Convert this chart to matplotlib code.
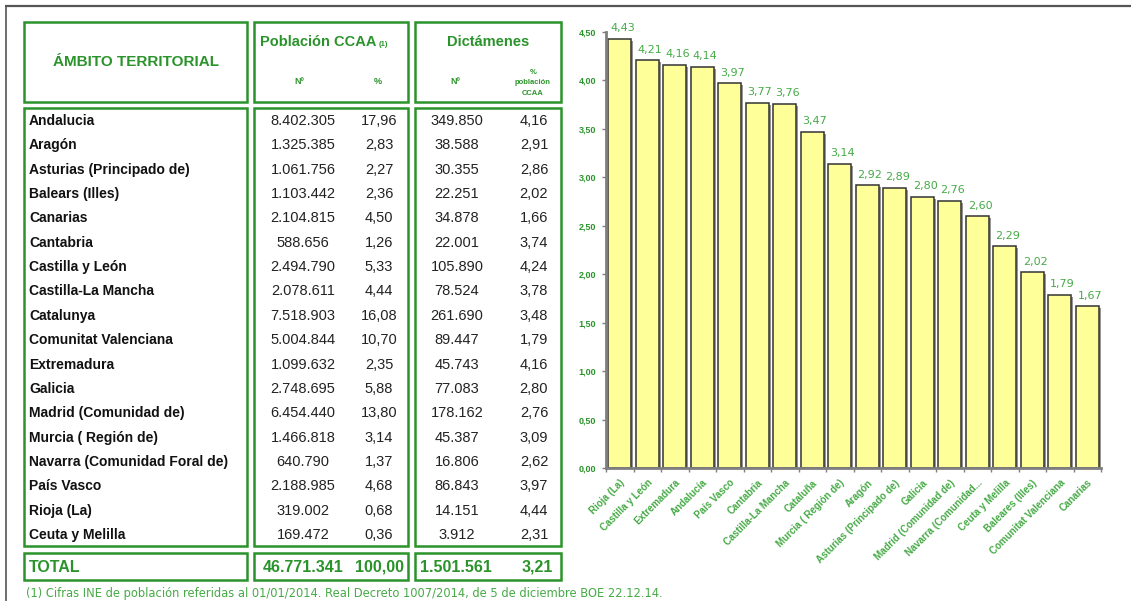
"""Tabla de dictámenes por CCAA y gráfico de dictámenes por cada 100 habitantes."""
import matplotlib
matplotlib.use("Agg")
import matplotlib.pyplot as plt  # noqa: E402
import matplotlib.patheffects as pe  # noqa: E402
import numpy as np  # noqa: E402
from matplotlib.patches import Rectangle  # noqa: E402
from matplotlib.ticker import FuncFormatter, MultipleLocator  # noqa: E402

plt.rcParams["font.family"] = ["Liberation Sans", "DejaVu Sans"]

VERDE = "#2b932b"
VERDE_CLARO = "#46aa46"
AMARILLO = "#ffff99"

# --- datos de la tabla ---
comunidades = [
    "Andalucia", "Aragón", "Asturias (Principado de)", "Balears (Illes)",
    "Canarias", "Cantabria", "Castilla y León", "Castilla-La Mancha",
    "Catalunya", "Comunitat Valenciana", "Extremadura", "Galicia",
    "Madrid (Comunidad de)", "Murcia ( Región de)",
    "Navarra (Comunidad Foral de)", "País Vasco", "Rioja (La)", "Ceuta y Melilla",
]
poblacion = [8402305, 1325385, 1061756, 1103442, 2104815, 588656, 2494790,
             2078611, 7518903, 5004844, 1099632, 2748695, 6454440, 1466818,
             640790, 2188985, 319002, 169472]
poblacion_pct = [17.96, 2.83, 2.27, 2.36, 4.50, 1.26, 5.33, 4.44, 16.08,
                 10.70, 2.35, 5.88, 13.80, 3.14, 1.37, 4.68, 0.68, 0.36]
dictamenes = [349850, 38588, 30355, 22251, 34878, 22001, 105890, 78524,
              261690, 89447, 45743, 77083, 178162, 45387, 16806, 86843,
              14151, 3912]
dictamenes_pct = [4.16, 2.91, 2.86, 2.02, 1.66, 3.74, 4.24, 3.78, 3.48,
                  1.79, 4.16, 2.80, 2.76, 3.09, 2.62, 3.97, 4.44, 2.31]
total = [46771341, 100.00, 1501561, 3.21]

# --- datos del gráfico ---
ccaa_graf = [
    "Rioja (La)", "Castilla y León", "Extremadura", "Andalucía", "País Vasco",
    "Cantabria", "Castilla-La Mancha", "Cataluña", "Murcia ( Región de)",
    "Aragón", "Asturias (Principado de)", "Galicia", "Madrid (Comunidad de)",
    "Navarra (Comunidad...", "Ceuta y Melilla", "Baleares (Illes)",
    "Comunitat Valenciana", "Canarias",
]
tasa_graf = [4.43, 4.21, 4.16, 4.14, 3.97, 3.77, 3.76, 3.47, 3.14, 2.92,
             2.89, 2.80, 2.76, 2.60, 2.29, 2.02, 1.79, 1.67]


def miles(n):
    return f"{n:,}".replace(",", ".")


def dec(v):
    return f"{v:.2f}".replace(".", ",")


W, H = 1131, 601
fig = plt.figure(figsize=(W / 100, H / 100), dpi=100)

# capa de maquetación en píxeles (tabla, marco, nota)
lay = fig.add_axes([0, 0, 1, 1])
lay.set_xlim(0, W); lay.set_ylim(H, 0); lay.axis("off")

lay.plot([5, W], [6, 6], color="#555555", lw=1.6, solid_capstyle="butt")
lay.plot([6, 6], [6, H], color="#555555", lw=1.2, solid_capstyle="butt")

cajas_x = [(24, 247), (254, 408), (415, 561)]
filas_y = [(22, 102), (108, 546), (553, 580)]
for y0, y1 in filas_y:
    for x0, x1 in cajas_x:
        lay.add_patch(Rectangle((x0, y0), x1 - x0, y1 - y0, fill=False,
                                edgecolor=VERDE, lw=1.8))

# cabecera
lay.text(136, 62, "ÁMBITO TERRITORIAL", ha="center", va="center",
         fontsize=11, fontweight="bold", color=VERDE)
lay.text(318, 42, "Población CCAA", ha="center", va="center",
         fontsize=10.5, fontweight="bold", color=VERDE)
lay.text(383, 44, "(1)", ha="center", va="center", fontsize=5.5,
         fontweight="bold", color=VERDE)
lay.text(488, 42, "Dictámenes", ha="center", va="center",
         fontsize=10.5, fontweight="bold", color=VERDE)
for x, t in [(299, "Nº"), (378, "%"), (455, "Nº")]:
    lay.text(x, 82, t, ha="center", va="center", fontsize=6.5,
             fontweight="bold", color=VERDE)
lay.text(533, 83, "%\npoblación\nCCAA", ha="center", va="center",
         fontsize=5.5, fontweight="bold", color=VERDE, linespacing=1.75)

# cuerpo
col_x = [303, 379, 457, 534]
y0, paso = 121, (535 - 121) / (len(comunidades) - 1)
for i, nombre in enumerate(comunidades):
    y = y0 + i * paso
    lay.text(29, y, nombre, ha="left", va="center", fontsize=10,
             fontweight="bold", color="#111111")
    vals = [miles(poblacion[i]), dec(poblacion_pct[i]),
            miles(dictamenes[i]), dec(dictamenes_pct[i])]
    for x, v in zip(col_x, vals):
        lay.text(x, y, v, ha="center", va="center", fontsize=10.5,
                 color="#222222")

# total
lay.text(29, 567, "TOTAL", ha="left", va="center", fontsize=11.5,
         fontweight="bold", color=VERDE)
vals_tot = [miles(total[0]), dec(total[1]), miles(total[2]), dec(total[3])]
for x, v in zip([303, 379, 456, 537], vals_tot):
    lay.text(x, 567, v, ha="center", va="center", fontsize=11.5,
             fontweight="bold", color=VERDE)

lay.text(26, 594, "(1) Cifras INE de población referidas al 01/01/2014. "
         "Real Decreto 1007/2014, de 5 de diciembre BOE 22.12.14.",
         ha="left", va="center", fontsize=8.3, color=VERDE_CLARO,
         family="DejaVu Sans")

# --- gráfico de barras ---
ax = fig.add_axes([606 / W, (H - 468) / H, (1101 - 606) / W, (468 - 32) / H])
x = np.arange(len(ccaa_graf))
barras = ax.bar(x, tasa_graf, width=0.84, color=AMARILLO, edgecolor="#333333",
                lw=1.1, zorder=2)
for b in barras:
    b.set_path_effects([pe.SimplePatchShadow(offset=(1.5, -1.5),
                                             shadow_rgbFace="#8a8a8a", alpha=0.9),
                        pe.Normal()])
for xi, v in zip(x, tasa_graf):
    ax.annotate(dec(v), (xi, v), xytext=(2, 4), textcoords="offset points",
                ha="center", va="bottom", fontsize=8, color=VERDE_CLARO,
                family="DejaVu Sans")

ax.set_xlim(-0.5, len(ccaa_graf) - 0.5)
ax.set_ylim(0, 4.5)
ax.yaxis.set_major_locator(MultipleLocator(0.5))
ax.yaxis.set_major_formatter(FuncFormatter(lambda v, _: dec(v)))
ax.set_xticks(x)
ax.set_xticklabels(ccaa_graf, rotation=45, ha="right", rotation_mode="anchor",
                   fontsize=7, fontweight="bold", color=VERDE_CLARO)
ax.set_xticks(np.arange(-0.5, len(ccaa_graf), 1), minor=True)
ax.tick_params(axis="x", which="major", length=0, pad=7)
ax.tick_params(axis="x", which="minor", length=3, color="#7f7f7f", width=1)
ax.tick_params(axis="y", length=3, color="#7f7f7f", width=1, pad=4,
               labelsize=6.5, labelcolor=VERDE)
for lbl in ax.get_yticklabels():
    lbl.set_fontweight("bold")
for s in ("top", "right"):
    ax.spines[s].set_visible(False)
for s in ("left", "bottom"):
    ax.spines[s].set_color("#7f7f7f")
    ax.spines[s].set_linewidth(2)
ax.patch.set_alpha(0)

fig.savefig("out.png", dpi=100)
